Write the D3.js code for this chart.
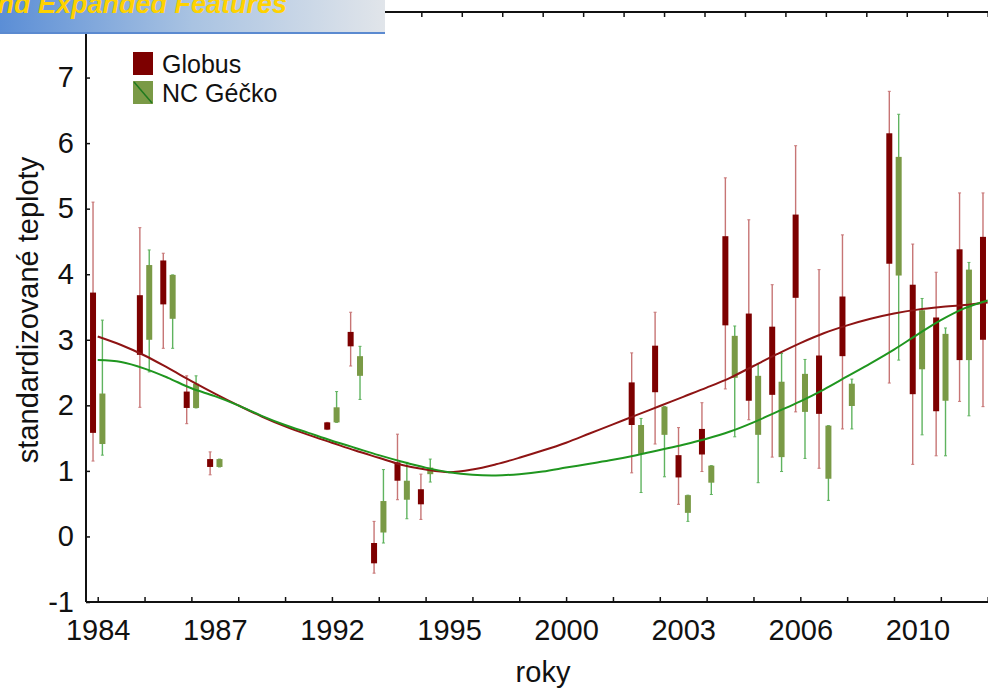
<!DOCTYPE html>
<html lang="cs">

<head>
    <meta charset="UTF-8">
    <title>standardizované teploty</title>
    <style>
        body { margin: 0; background: #fff; }
        text { font-family: Arial, 'Liberation Sans', sans-serif; }
    </style>
</head>

<body>
    <script src="https://cdn.jsdelivr.net/npm/d3@7"></script>
    <script>
        const svg_w = 988;
        const svg_h = 689;

        // category index of each box pair on the x axis
        const boxIndex = [0, 2, 3, 4, 5, 10, 11, 12, 13, 14, 23, 24, 25, 26, 27, 28, 29, 30, 31, 32, 34, 35, 36, 37, 38];

        // Globus
        const globusMax = [5.10, 4.71, 4.32, 2.45, 1.29, 1.74, 3.42, 0.23, 1.56, 0.95, 2.80, 3.42, 1.66, 2.04, 5.47, 4.83, 3.84, 5.96, 4.07, 4.60, 6.79, 4.46, 4.03, 5.24, 5.24];
        const globusQ3 = [3.72, 3.68, 4.21, 2.21, 1.18, 1.74, 3.12, -0.10, 1.13, 0.72, 2.35, 2.91, 1.24, 1.64, 4.58, 3.40, 3.20, 4.91, 2.76, 3.66, 6.15, 3.84, 3.34, 4.38, 4.57];
        const globusQ1 = [1.58, 2.77, 3.54, 1.96, 1.06, 1.63, 2.90, -0.41, 0.85, 0.49, 1.70, 2.20, 0.90, 1.25, 3.22, 2.07, 2.16, 3.64, 1.87, 2.75, 4.16, 2.17, 1.91, 2.69, 3.00];
        const globusMin = [1.15, 1.97, 2.87, 1.72, 0.94, 1.63, 2.60, -0.56, 0.56, 0.26, 0.97, 1.41, 0.49, 0.99, 2.25, 1.78, 1.21, 1.90, 1.04, 1.64, 2.34, 1.10, 1.23, 2.06, 1.98];

        // NC Géčko (last one is outside the picture)
        const geckoMax = [3.30, 4.37, 3.99, 2.45, 1.18, 2.21, 2.90, 1.02, 1.13, 1.18, 1.80, 1.98, 0.63, 1.08, 3.21, 2.64, 2.79, 2.70, 1.69, 2.40, 6.44, 3.63, 3.18, 4.18, null];
        const geckoQ3 = [2.18, 4.14, 3.99, 2.33, 1.18, 1.97, 2.75, 0.54, 0.85, 1.05, 1.70, 1.98, 0.63, 1.08, 3.06, 2.45, 2.36, 2.48, 1.69, 2.33, 5.79, 3.45, 3.09, 4.07, null];
        const geckoQ1 = [1.41, 3.00, 3.32, 1.96, 1.06, 1.74, 2.45, 0.06, 0.56, 0.95, 1.26, 1.55, 0.36, 0.82, 2.42, 1.55, 1.21, 1.90, 0.88, 1.99, 3.98, 2.55, 2.07, 2.69, null];
        const geckoMin = [1.24, 2.51, 2.87, 1.96, 1.06, 1.74, 2.09, -0.10, 0.27, 0.83, 0.67, 0.91, 0.23, 0.64, 1.52, 0.82, 0.99, 1.19, 0.55, 1.64, 2.69, 1.55, 1.23, 1.84, null];

        // smoothed trends, one value per category 0..38
        const trendGlobus = [3.05, 2.92, 2.76, 2.57, 2.37, 2.18, 2.00, 1.83, 1.68, 1.55, 1.43, 1.31, 1.20, 1.09, 1.02, 0.98, 1.02, 1.10, 1.20, 1.31, 1.43, 1.57, 1.71, 1.85, 1.99, 2.13, 2.27, 2.42, 2.60, 2.78, 2.95, 3.10, 3.22, 3.32, 3.40, 3.46, 3.50, 3.53, 3.57];
        const trendGecko = [2.69, 2.66, 2.56, 2.42, 2.26, 2.14, 2.00, 1.84, 1.70, 1.58, 1.46, 1.35, 1.24, 1.14, 1.05, 0.98, 0.94, 0.93, 0.95, 0.99, 1.05, 1.11, 1.17, 1.24, 1.32, 1.40, 1.49, 1.60, 1.74, 1.90, 2.06, 2.24, 2.44, 2.64, 2.85, 3.08, 3.30, 3.48, 3.60];

        const yearIndex = [0, 5, 10, 15, 20, 25, 30, 35];
        const yearLabels = ['1984', '1987', '1992', '1995', '2000', '2003', '2006', '2010'];
        const yTicks = [-1, 0, 1, 2, 3, 4, 5, 6, 7];

        const x = d3.scaleLinear().domain([-0.5, 38.5]).range([86, 86 + 39 * 23.42]);
        const y = d3.scaleLinear().domain([-1, 8]).range([602, 12]);

        const svg = d3.select('body')
            .append('svg')
            .attr('width', svg_w)
            .attr('height', svg_h);

        // boxes
        const boxes = boxIndex.map((k, i) => [
            { k: k, off: -0.2, max: globusMax[i], q3: globusQ3[i], q1: globusQ1[i], min: globusMin[i], box: '#7d0000', wh: '#c77575' },
            { k: k, off: 0.2, max: geckoMax[i], q3: geckoQ3[i], q1: geckoQ1[i], min: geckoMin[i], box: '#7a9a46', wh: '#5fb35f' }
        ]).flat().filter(d => d.max !== null);

        const g = svg.selectAll('g.box')
            .data(boxes)
            .enter()
            .append('g')
            .attr('class', 'box');

        g.append('line')
            .attr('x1', d => x(d.k + d.off))
            .attr('x2', d => x(d.k + d.off))
            .attr('y1', d => y(d.max))
            .attr('y2', d => y(d.min))
            .attr('stroke', d => d.wh)
            .attr('stroke-width', 1.4);

        g.selectAll('line.cap')
            .data(d => [d.max, d.min].map(v => ({ v: v, d: d })))
            .enter()
            .append('line')
            .attr('class', 'cap')
            .attr('x1', c => x(c.d.k + c.d.off) - 1.5)
            .attr('x2', c => x(c.d.k + c.d.off) + 1.5)
            .attr('y1', c => y(c.v))
            .attr('y2', c => y(c.v))
            .attr('stroke', c => c.d.wh)
            .attr('stroke-width', 1);

        g.append('rect')
            .attr('x', d => x(d.k + d.off) - 3)
            .attr('width', 6)
            .attr('y', d => y(d.q3))
            .attr('height', d => Math.max(y(d.q1) - y(d.q3), 2))
            .attr('fill', d => d.box);

        // trend lines
        const trend = d3.line()
            .x((d, i) => x(i))
            .y(d => y(d))
            .curve(d3.curveCatmullRom);

        svg.append('path')
            .attr('d', trend(trendGlobus))
            .attr('fill', 'none')
            .attr('stroke', '#8e1414')
            .attr('stroke-width', 2);

        svg.append('path')
            .attr('d', trend(trendGecko))
            .attr('fill', 'none')
            .attr('stroke', '#1f961f')
            .attr('stroke-width', 2);

        // axes
        const axisColor = '#111';
        svg.append('line')
            .attr('x1', 86).attr('x2', svg_w)
            .attr('y1', y(-1)).attr('y2', y(-1))
            .attr('stroke', axisColor).attr('stroke-width', 2);
        svg.append('line')
            .attr('x1', 86).attr('x2', svg_w)
            .attr('y1', y(8)).attr('y2', y(8))
            .attr('stroke', axisColor).attr('stroke-width', 2);
        svg.append('line')
            .attr('x1', 86).attr('x2', 86)
            .attr('y1', y(8)).attr('y2', y(-1))
            .attr('stroke', axisColor).attr('stroke-width', 2);

        // inner ticks
        svg.append('g')
            .attr('transform', `translate(0,${y(-1)})`)
            .call(d3.axisTop(x).tickValues(d3.range(0, 39, 2)).tickSize(5).tickFormat(''))
            .call(a => a.select('.domain').remove());
        svg.append('g')
            .attr('transform', `translate(0,${y(8)})`)
            .call(d3.axisBottom(x).tickValues(d3.range(23).map(j => j * 38 / 22)).tickSize(5).tickFormat(''))
            .call(a => a.select('.domain').remove());
        svg.append('g')
            .attr('transform', 'translate(86,0)')
            .call(d3.axisRight(y).tickValues(yTicks).tickSize(4).tickFormat(''))
            .call(a => a.select('.domain').remove());
        svg.selectAll('.tick line').attr('stroke', axisColor).attr('stroke-width', 1.5);

        // tick labels
        svg.append('g')
            .attr('transform', `translate(0,${y(-1)})`)
            .call(d3.axisBottom(x).tickValues(yearIndex).tickSize(0).tickPadding(17).tickFormat((d, i) => yearLabels[i]))
            .call(a => a.select('.domain').remove())
            .selectAll('text')
            .attr('font-size', '29px')
            .attr('font-family', 'Arial, Liberation Sans, sans-serif')
            .attr('fill', '#111');

        svg.append('g')
            .attr('transform', 'translate(86,0)')
            .call(d3.axisLeft(y).tickValues(yTicks).tickSize(0).tickPadding(12).tickFormat(d => String(d)))
            .call(a => a.select('.domain').remove())
            .selectAll('text')
            .attr('font-size', '29px')
            .attr('font-family', 'Arial, Liberation Sans, sans-serif')
            .attr('fill', '#111');

        // axis titles
        svg.append('text')
            .text('roky')
            .attr('x', 543)
            .attr('y', 682)
            .attr('text-anchor', 'middle')
            .attr('font-size', '29px')
            .attr('fill', '#111');

        svg.append('text')
            .text('standardizované teploty')
            .attr('transform', 'translate(38,310) rotate(-90)')
            .attr('text-anchor', 'middle')
            .attr('font-size', '29px')
            .attr('fill', '#111');

        // legend
        const legend = svg.append('g').attr('transform', 'translate(133,52)');
        legend.append('rect').attr('width', 20).attr('height', 23).attr('fill', '#7d0000');
        legend.append('rect').attr('y', 29).attr('width', 20).attr('height', 23).attr('fill', '#7a9a46');
        legend.append('line')
            .attr('x1', 1).attr('y1', 30).attr('x2', 19).attr('y2', 51)
            .attr('stroke', '#1f7a1f').attr('stroke-width', 1.5);
        legend.append('text').text('Globus')
            .attr('x', 29).attr('y', 21)
            .attr('font-size', '25px').attr('fill', '#111');
        legend.append('text').text('NC Géčko')
            .attr('x', 29).attr('y', 50)
            .attr('font-size', '25px').attr('fill', '#111');

        // trial banner in the corner
        const grad = svg.append('defs').append('linearGradient').attr('id', 'banner');
        grad.append('stop').attr('offset', '0%').attr('stop-color', '#5b8ed6');
        grad.append('stop').attr('offset', '50%').attr('stop-color', '#a9c3e2');
        grad.append('stop').attr('offset', '100%').attr('stop-color', '#e1e5ea');
        svg.append('rect')
            .attr('x', 0).attr('y', 0).attr('width', 385).attr('height', 33)
            .attr('fill', 'url(#banner)');
        svg.append('line')
            .attr('x1', 0).attr('x2', 385).attr('y1', 33).attr('y2', 33)
            .attr('stroke', '#5b8ad0').attr('stroke-width', 2);
        svg.append('text')
            .text('and Expanded Features')
            .attr('x', 287)
            .attr('y', 13)
            .attr('text-anchor', 'end')
            .attr('font-size', '27px')
            .attr('font-weight', 'bold')
            .attr('font-style', 'italic')
            .attr('fill', '#ffd200');
    </script>
</body>

</html>
